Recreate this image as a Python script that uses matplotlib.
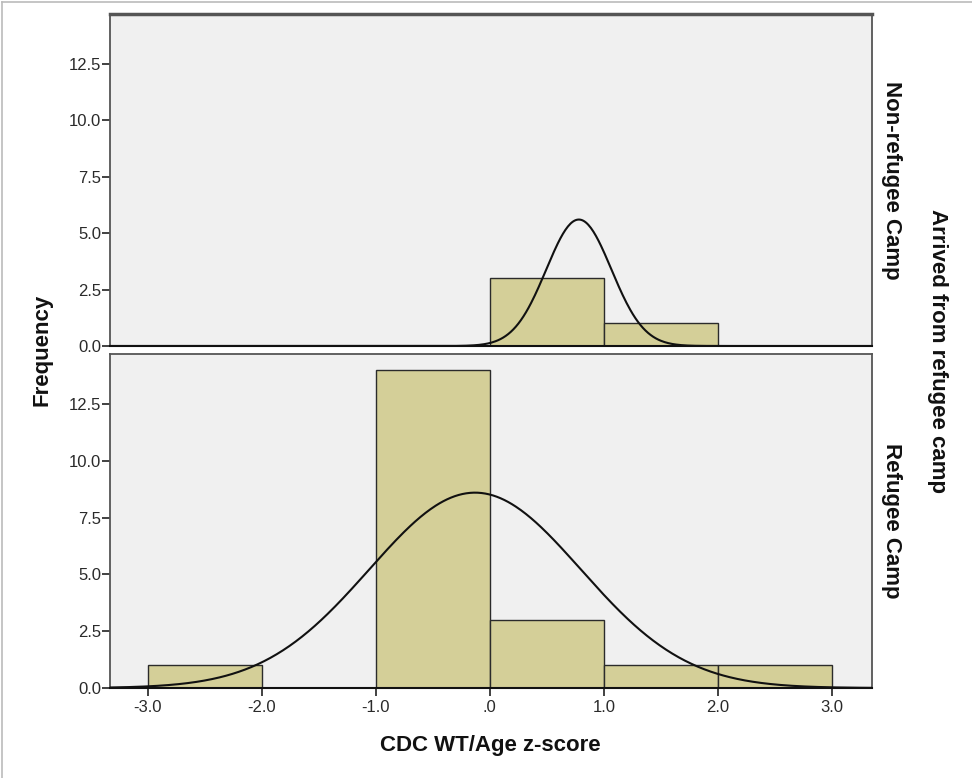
import numpy as np
import matplotlib
matplotlib.use("Agg")
import matplotlib.pyplot as plt
from matplotlib.lines import Line2D

plt.rcParams['font.family'] = ['Liberation Sans', 'DejaVu Sans']

# Histogram bins (unit width) for CDC weight-for-age z-score
bin_edges = [-3, -2, -1, 0, 1, 2, 3]
non_refugee_counts = [0, 0, 0, 3, 1, 0]
refugee_counts = [1, 0, 14, 3, 1, 1]

# Fitted normal curves: mean, standard deviation, sample size
non_refugee_fit = dict(mean=0.78, sd=0.285, n=4)
refugee_fit = dict(mean=-0.13, sd=0.928, n=20)

panel_labels = ["Non-refugee Camp", "Refugee Camp"]
x_ticks = [-3, -2, -1, 0, 1, 2, 3]
x_tick_labels = ["-3.0", "-2.0", "-1.0", ".0", "1.0", "2.0", "3.0"]
y_ticks = [0, 2.5, 5, 7.5, 10, 12.5]
y_tick_labels = ["0.0", "2.5", "5.0", "7.5", "10.0", "12.5"]

W, H = 972, 778
fig = plt.figure(figsize=(W / 100, H / 100), dpi=100)

left, right = 110 / W, 872 / W
ax_top = fig.add_axes([left, 1 - 346 / H, right - left, (346 - 14) / H])
ax_bot = fig.add_axes([left, 1 - 688 / H, right - left, (688 - 354) / H])

bar_color = "#D4CF98"
edge_color = "#2b2b2b"
bg = "#F0F0F0"
xlim = (-3.33, 3.35)
ylim = (0, 14.7)
label_size = 16
tick_size = 12

for ax, counts, fit, lab in [(ax_top, non_refugee_counts, non_refugee_fit, panel_labels[0]),
                              (ax_bot, refugee_counts, refugee_fit, panel_labels[1])]:
    ax.set_facecolor(bg)
    widths = np.diff(bin_edges)
    for x0, w, c in zip(bin_edges[:-1], widths, counts):
        if c > 0:
            ax.bar(x0, c, width=w, align='edge', color=bar_color,
                   edgecolor=edge_color, linewidth=1.0, zorder=2)
    xs = np.linspace(xlim[0], xlim[1], 600)
    ys = fit['n'] * 1.0 / (fit['sd'] * np.sqrt(2 * np.pi)) * \
        np.exp(-0.5 * ((xs - fit['mean']) / fit['sd']) ** 2)
    ax.plot(xs, ys, color="#111111", linewidth=1.5, zorder=3)
    ax.set_xlim(*xlim)
    ax.set_ylim(*ylim)
    ax.set_yticks(y_ticks)
    ax.set_yticklabels(y_tick_labels, fontsize=tick_size, color="#2a2a2a")
    ax.tick_params(axis='y', direction='out', length=6, width=1.3, color="#333333", pad=0.5)
    for s in ax.spines.values():
        s.set_color("#555555")
        s.set_linewidth(1.3)
    ax.spines['bottom'].set_color("#111111")
    ax.spines['bottom'].set_linewidth(1.5)
    ax.text((891 - 110) / (872 - 110), 0.5, lab, transform=ax.transAxes, rotation=-90,
            ha='center', va='center', fontsize=label_size, fontweight='bold', color="#111111")

ax_top.set_xticks([])
ax_top.spines['top'].set_linewidth(2.5)
ax_bot.set_xticks(x_ticks)
ax_bot.set_xticklabels(x_tick_labels, fontsize=tick_size, color="#2a2a2a")
ax_bot.tick_params(axis='x', direction='out', length=6, width=1.3, color="#333333", pad=3)

fig.text(42 / W, 1 - 350 / H, "Frequency", rotation=90, ha='center', va='center',
         fontsize=label_size, fontweight='bold', color="#111111")
fig.text(490 / W, 1 - 746 / H, "CDC WT/Age z-score", ha='center', va='center',
         fontsize=label_size, fontweight='bold', color="#111111")
fig.text(937 / W, 1 - 351 / H, "Arrived from refugee camp", rotation=-90,
         ha='center', va='center', fontsize=label_size, fontweight='bold', color="#111111")

# thin border along the top and left edges
fig.add_artist(Line2D([2 / W, 1], [1 - 2 / H, 1 - 2 / H], transform=fig.transFigure,
                      color="#bbbbbb", linewidth=1.2))
fig.add_artist(Line2D([2 / W, 2 / W], [0, 1 - 2 / H], transform=fig.transFigure,
                      color="#bbbbbb", linewidth=1.2))

fig.savefig("out.png", dpi=100, facecolor="white")
